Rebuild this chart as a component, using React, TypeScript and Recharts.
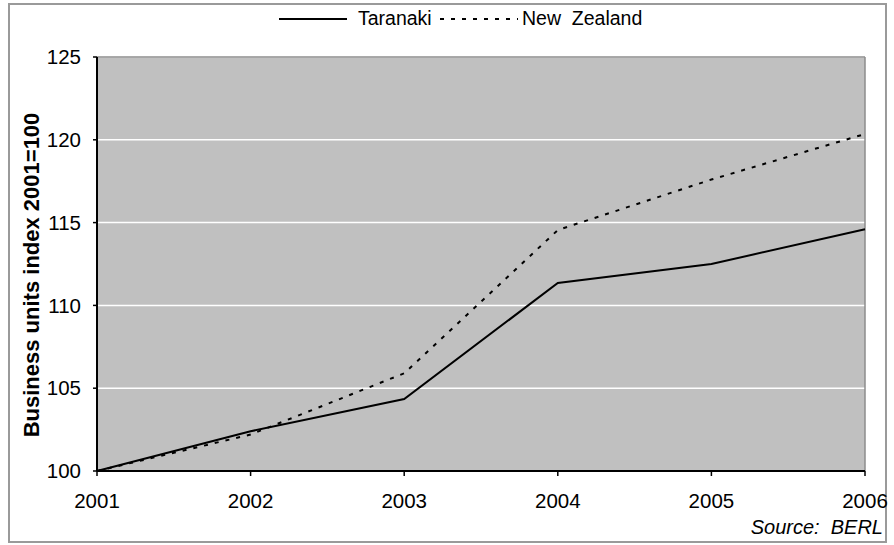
import React from "react";
import {
  LineChart,
  Line,
  XAxis,
  YAxis,
  CartesianGrid,
  Legend,
  ReferenceLine,
} from "recharts";

// Business units index, 2001 = 100
const years = ["2001", "2002", "2003", "2004", "2005", "2006"];
const taranaki = [100, 102.4, 104.35, 111.35, 112.5, 114.6];
const newZealand = [100, 102.2, 105.9, 114.55, 117.6, 120.35];
const yTicks = [100, 105, 110, 115, 120, 125];

const data = years.map((year, i) => ({
  year,
  taranaki: taranaki[i],
  nz: newZealand[i],
}));

const FONT = "'Liberation Sans', Arial, sans-serif";
const NZ_DASH = "4 7";
const LEGEND_H = 34;

const LegendContent = (props: any) => {
  const items = props.payload || [];
  const t = items.find((p: any) => p.dataKey === "taranaki");
  const n = items.find((p: any) => p.dataKey === "nz");
  return (
    <svg width={894} height={LEGEND_H} style={{ display: "block" }}>
      <line x1={279} x2={347} y1={19} y2={19} stroke="#000" strokeWidth={2} />
      <text x={358} y={25} fontSize={19.5} fontFamily={FONT} fill="#000">
        {t ? t.value : "Taranaki"}
      </text>
      <line
        x1={440}
        x2={518}
        y1={19}
        y2={19}
        stroke="#000"
        strokeWidth={2}
        strokeDasharray={NZ_DASH}
      />
      <text x={522} y={25} fontSize={19.5} fontFamily={FONT} fill="#000" style={{ whiteSpace: "pre" }}>
        {n ? n.value : "New Zealand"}
      </text>
    </svg>
  );
};

export default function App() {
  return (
    <div
      style={{
        position: "absolute",
        left: 0,
        top: 0,
        width: 894,
        height: 545,
        background: "#fff",
      }}
    >
      <div
        style={{
          position: "absolute",
          left: 8,
          top: 3,
          width: 879,
          height: 540,
          boxSizing: "border-box",
          border: "2px solid #9a9a9a",
        }}
      />
      <LineChart
        width={894}
        height={545}
        data={data}
        margin={{ top: 57 - LEGEND_H, right: 29, bottom: 24, left: 0 }}
        style={{ position: "absolute", left: 0, top: 0 }}
      >
        <CartesianGrid
          vertical={false}
          fill="#c0c0c0"
          stroke="#ffffff"
          strokeWidth={1.5}
          fillOpacity={1}
        />
        <ReferenceLine y={125} stroke="#8c8c8c" strokeWidth={1.5} />
        <ReferenceLine x="2006" stroke="#8c8c8c" strokeWidth={1.5} />
        <XAxis
          dataKey="year"
          height={50}
          interval={0}
          axisLine={{ stroke: "#000", strokeWidth: 2 }}
          tickLine={{ stroke: "#000", strokeWidth: 1.5 }}
          tickSize={5}
          tickMargin={17}
          tick={{ fill: "#000", fontSize: 20.5, fontFamily: FONT }}
        />
        <YAxis
          width={97}
          domain={[100, 125]}
          ticks={yTicks}
          interval={0}
          axisLine={{ stroke: "#000", strokeWidth: 2 }}
          tickLine={{ stroke: "#000", strokeWidth: 1.5 }}
          tickSize={4}
          tickMargin={12}
          tick={{ fill: "#000", fontSize: 20.5, fontFamily: FONT }}
          label={{
            content: (props: any) => {
              const vb = props.viewBox || { x: 0, y: 57, width: 97, height: 414 };
              const cx = 31;
              const cy = vb.y + vb.height / 2 + 11;
              return (
                <text
                  x={cx}
                  y={cy}
                  transform={`rotate(-90 ${cx} ${cy})`}
                  textAnchor="middle"
                  dominantBaseline="central"
                  fontSize={22}
                  fontWeight="bold"
                  fontFamily={FONT}
                  fill="#000"
                >
                  Business units index 2001=100
                </text>
              );
            },
          }}
        />
        <Legend
          verticalAlign="top"
          align="left"
          content={LegendContent}
          wrapperStyle={{ top: 0, left: 0, width: 894, height: LEGEND_H }}
        />
        <Line
          type="linear"
          dataKey="taranaki"
          name="Taranaki"
          stroke="#000"
          strokeWidth={2}
          dot={false}
          activeDot={false}
          isAnimationActive={false}
        />
        <Line
          type="linear"
          dataKey="nz"
          name="New  Zealand"
          stroke="#000"
          strokeWidth={2}
          strokeDasharray={NZ_DASH}
          dot={false}
          activeDot={false}
          isAnimationActive={false}
        />
      </LineChart>
      <div
        style={{
          position: "absolute",
          right: 11,
          top: 515,
          fontFamily: FONT,
          fontSize: 20,
          fontStyle: "italic",
          color: "#000",
          whiteSpace: "pre",
          lineHeight: "24px",
        }}
      >
        {"Source:  BERL"}
      </div>
    </div>
  );
}
